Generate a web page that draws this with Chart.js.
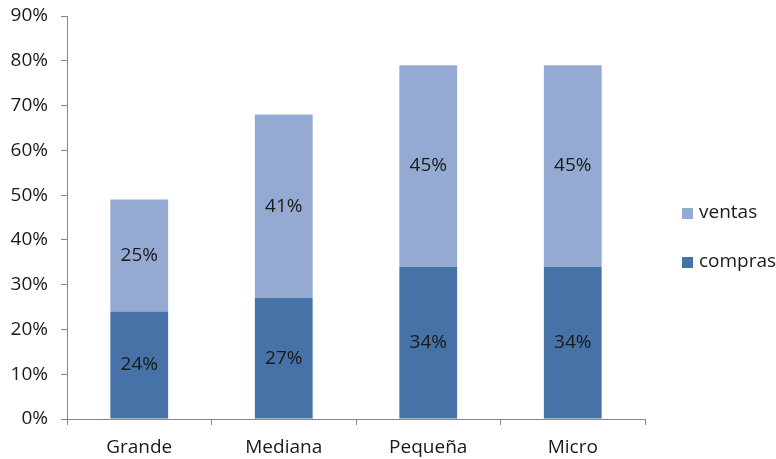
<!DOCTYPE html>
<html>
<head>
<meta charset="utf-8">
<script src="https://cdn.jsdelivr.net/npm/chart.js@4.4.1/dist/chart.umd.min.js"></script>
<style>
  html, body { margin: 0; padding: 0; background: #fff; }
  #wrap { width: 776px; height: 459px; }
</style>
</head>
<body>
<div id="wrap"><canvas id="chart" width="776" height="459"></canvas></div>
<script>
const categories = ["Grande", "Mediana", "Pequeña", "Micro"];
const compras = [24, 27, 34, 34];
const ventas = [25, 41, 45, 45];
const yTicks = [0, 10, 20, 30, 40, 50, 60, 70, 80, 90];

const FONT = "'Open Sans', sans-serif";
const TEXT = "#1a1a1a";
const AXIS = "#868686";
const COLOR_COMPRAS = "#4672a8";
const COLOR_VENTAS = "#95aad2";

// writes the percentage inside each stacked segment
const segmentLabels = {
  id: "segmentLabels",
  afterDatasetsDraw(chart) {
    const ctx = chart.ctx;
    ctx.save();
    ctx.font = "19px " + FONT;
    ctx.fillStyle = TEXT;
    ctx.textAlign = "center";
    ctx.textBaseline = "middle";
    chart.data.datasets.forEach((ds, i) => {
      chart.getDatasetMeta(i).data.forEach((bar, j) => {
        const mid = (bar.y + bar.base) / 2;
        ctx.fillText(ds.data[j] + "%", bar.x, mid);
      });
    });
    ctx.restore();
  }
};

// legend on the right, ventas listed above compras
const sideLegend = {
  id: "sideLegend",
  afterDraw(chart) {
    const ctx = chart.ctx;
    const items = [
      { label: "ventas", color: COLOR_VENTAS, y: 213 },
      { label: "compras", color: COLOR_COMPRAS, y: 262 }
    ];
    ctx.save();
    ctx.font = "19px " + FONT;
    ctx.textBaseline = "middle";
    items.forEach(it => {
      ctx.fillStyle = it.color;
      ctx.fillRect(682, it.y - 5, 11, 11);
      ctx.fillStyle = TEXT;
      ctx.fillText(it.label, 699, it.y);
    });
    ctx.restore();
  }
};

new Chart(document.getElementById("chart"), {
  type: "bar",
  data: {
    labels: categories,
    datasets: [
      { label: "compras", data: compras, backgroundColor: COLOR_COMPRAS, borderWidth: 0 },
      { label: "ventas", data: ventas, backgroundColor: COLOR_VENTAS, borderWidth: 0 }
    ]
  },
  options: {
    responsive: false,
    animation: false,
    datasets: { bar: { categoryPercentage: 1, barPercentage: 0.4 } },
    layout: { padding: { top: 16, right: 131, left: 0, bottom: 0 } },
    plugins: {
      legend: { display: false },
      tooltip: { enabled: false }
    },
    scales: {
      x: {
        stacked: true,
        offset: true,
        grid: { display: true, offset: true, drawOnChartArea: false, drawTicks: true, tickLength: 6, color: AXIS },
        border: { color: AXIS },
        ticks: { color: TEXT, font: { family: FONT, size: 19 }, padding: 11 },
        afterFit(scale) { scale.height = 40; }
      },
      y: {
        stacked: true,
        min: yTicks[0],
        max: yTicks[yTicks.length - 1],
        afterBuildTicks(scale) { scale.ticks = yTicks.map(v => ({ value: v })); },
        grid: { display: true, drawOnChartArea: false, drawTicks: true, tickLength: 6, color: AXIS },
        border: { color: AXIS },
        ticks: {
          color: TEXT,
          font: { family: FONT, size: 19 },
          padding: 13,
          callback: v => v + "%"
        },
        afterFit(scale) {
          scale.width = 67;
          scale.paddingTop = 0;
          scale.paddingBottom = 0;
        }
      }
    }
  },
  plugins: [segmentLabels, sideLegend]
});
</script>
</body>
</html>
